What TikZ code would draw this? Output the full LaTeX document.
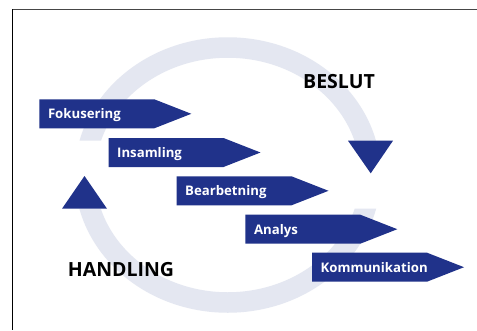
\documentclass[tikz,border=0pt]{standalone}
\usepackage{fontspec}
\setmainfont{Open Sans}
\usetikzlibrary{calc}
\definecolor{arrowblue}{RGB}{32,50,138}
\definecolor{ringcol}{RGB}{228,231,241}
\definecolor{framegray}{RGB}{70,70,70}
\begin{document}
\begin{tikzpicture}[x=1pt,y=-1pt,
  stepfill/.style={fill=arrowblue},
  steptext/.style={anchor=base west,inner sep=0pt,text=white,font=\fontsize{13.2}{16}\selectfont\bfseries},
  bigtext/.style={anchor=base west,inner sep=0pt,text=black,font=\fontsize{19.5}{21}\selectfont\bfseries},
  ring/.style={draw=ringcol,line width=20.5pt}]
\useasboundingbox (0,0) rectangle (477,330);
\fill[white] (0,0) rectangle (477,330);
% frame
\draw[framegray,line width=1.2pt] (12,9.6) -- (477,9.6);
\draw[black,line width=1.1pt] (12.6,9) -- (12.6,330);
% ring
\begin{scope}
  \clip (0,0) rectangle (477,140.5) (0,208.5) rectangle (477,330);
  \draw[ring] (227.75,175) ellipse [x radius=142.75, y radius=127.5];
\end{scope}
% arrowheads of ring
\fill[stepfill] (348,140.7) -- (393,140.7) -- (370.7,173.3) -- cycle;
\fill[stepfill] (62,208.7) -- (107,208.7) -- (84.5,176) -- cycle;
% steps
\foreach \x/\y/\n/\t in {39.3/99.3/fok/Fokusering, 108.5/138/ins/Insamling, 176.5/176.3/bea/Bearbetning, 245.3/214.7/ana/Analys, 312/252.7/kom/Kommunikation}{
  \fill[stepfill] (\x,\y) -- ++(115,0) -- ++(37,14.5) -- ++(-37,14.5) -- ++(-115,0) -- cycle;
  \node[steptext] (\n) at ($(\x,\y)+(8.5,19.6)$) {\t};
}
\node[bigtext] (beslut) at (303,88.3) {BESLUT};
\node[bigtext] (handling) at (67.7,276) {HANDLING};
\end{tikzpicture}
\end{document}
